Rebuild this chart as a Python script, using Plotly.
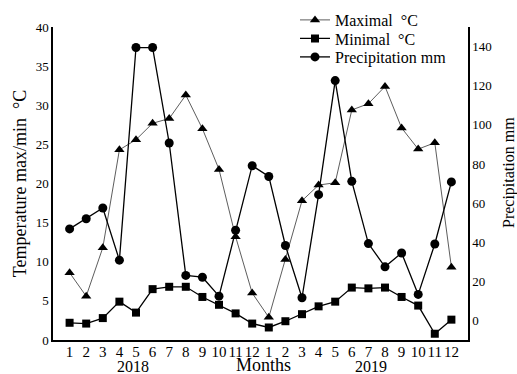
import plotly.graph_objects as go

months = ["1","2","3","4","5","6","7","8","9","10","11","12",
          "1","2","3","4","5","6","7","8","9","10","11","12"]
years = ["2018", "2019"]
max_temp = [8.6, 5.6, 11.8, 24.3, 25.6, 27.7, 28.3, 31.3, 27.0, 21.8, 13.2, 6.0,
            2.9, 10.3, 17.8, 19.8, 20.1, 29.4, 30.2, 32.4, 27.1, 24.4, 25.2, 9.3]
min_temp = [2.2, 2.1, 2.8, 4.9, 3.5, 6.5, 6.8, 6.8, 5.5, 4.5, 3.4, 2.1,
            1.6, 2.4, 3.3, 4.3, 4.9, 6.7, 6.6, 6.7, 5.5, 4.4, 0.8, 2.6]
precip = [46.8, 52.0, 57.5, 30.8, 139.5, 139.5, 90.7, 23.0, 22.1, 12.4, 46.1, 79.1,
          73.6, 38.3, 11.6, 64.3, 122.6, 71.1, 39.3, 27.4, 34.5, 13.3, 39.1, 70.8]

x = list(range(len(months)))
FONT = "Liberation Serif, Times New Roman, serif"

PLOT_TOP, PLOT_BOTTOM, PLOT_LEFT, PLOT_RIGHT = 27, 340, 53, 468
def py(px):
    return (PLOT_BOTTOM - px) / (PLOT_BOTTOM - PLOT_TOP)
def pxx(px):
    return (px - PLOT_LEFT) / (PLOT_RIGHT - PLOT_LEFT)

fig = go.Figure()
fig.add_trace(go.Scatter(x=x, y=max_temp, name="Maximal  °C", mode="lines+markers",
                         legend="legend",
                         line=dict(color="#333333", width=0.8),
                         marker=dict(symbol="triangle-up", size=9, color="black")))
fig.add_trace(go.Scatter(x=x, y=min_temp, name="Minimal  °C", mode="lines+markers",
                         legend="legend2",
                         line=dict(color="black", width=1.3),
                         marker=dict(symbol="square", size=8, color="black")))
fig.add_trace(go.Scatter(x=x, y=precip, name="Precipitation mm", mode="lines+markers",
                         yaxis="y2", legend="legend3",
                         line=dict(color="black", width=1.3),
                         marker=dict(symbol="circle", size=9, color="black")))

def leg(ypx):
    return dict(x=pxx(295), y=py(ypx), xanchor="left", yanchor="middle",
                bgcolor="rgba(0,0,0,0)", font=dict(size=16, family=FONT))

fig.update_layout(
    width=517, height=374,
    margin=dict(l=53, r=49, t=27, b=34, autoexpand=False),
    paper_bgcolor="white", plot_bgcolor="white",
    font=dict(family=FONT, color="black", size=14),
    showlegend=True,
    legend=leg(20), legend2=leg(38.5), legend3=leg(57),
    xaxis=dict(range=[-1, 24], tickmode="array", tickvals=x, ticktext=months,
               tickangle=0, automargin=False, ticklabelstandoff=-3,
               showline=True, linecolor="black", linewidth=1.5, showgrid=False,
               zeroline=False, ticks="", tickfont=dict(size=15, family=FONT)),
    yaxis=dict(range=[0, 40], dtick=5, showline=True, linecolor="black", linewidth=1.5,
               showgrid=False, zeroline=False, ticks="", automargin=False,
               tickfont=dict(size=13, family=FONT),
               title=dict(text="Temperature max/min  °C", font=dict(size=18, family=FONT),
                          standoff=4)),
    yaxis2=dict(range=[-10, 150], tickvals=[0, 20, 40, 60, 80, 100, 120, 140],
                overlaying="y", side="right", showline=True, linecolor="black",
                linewidth=1.5, showgrid=False, zeroline=False, ticks="", automargin=False,
                tickfont=dict(size=13, family=FONT)),
    annotations=[
        dict(text="Precipitation mm", x=pxx(509), y=py(173), xref="paper", yref="paper",
             xanchor="center", yanchor="middle", textangle=-90, showarrow=False,
             font=dict(size=16, family=FONT)),
        dict(text=years[0], x=pxx(133), y=py(366), xref="paper", yref="paper",
             xanchor="center", yanchor="middle", showarrow=False,
             font=dict(size=16, family=FONT)),
        dict(text="Months", x=pxx(263), y=py(365), xref="paper", yref="paper",
             xanchor="center", yanchor="middle", showarrow=False,
             font=dict(size=18, family=FONT)),
        dict(text=years[1], x=pxx(371), y=py(366), xref="paper", yref="paper",
             xanchor="center", yanchor="middle", showarrow=False,
             font=dict(size=16, family=FONT)),
    ],
)

fig.write_html("out.html", config={"displayModeBar": False},
               post_script="document.body.style.margin='0';document.body.style.overflow='hidden';")
